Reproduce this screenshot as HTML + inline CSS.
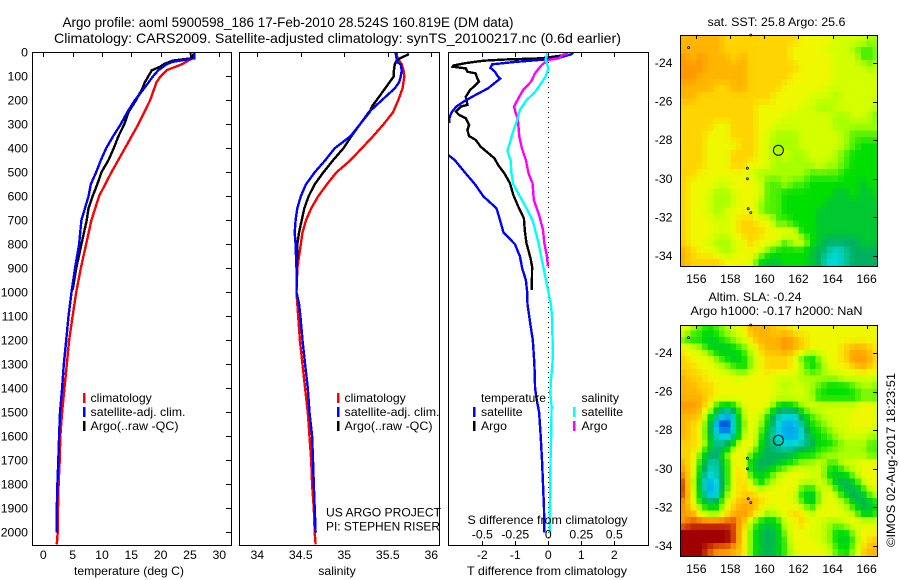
<!DOCTYPE html>
<html>
<head>
<meta charset="utf-8">
<title>Argo profile</title>
<style>
html,body{margin:0;padding:0;background:#fff;}
svg{display:block;}
text{font-family:"Liberation Sans",sans-serif;font-size:12.25px;fill:#000;}
.title{font-size:14px;}
.mid{text-anchor:middle;}
</style>
</head>
<body>
<svg id="chart" xmlns="http://www.w3.org/2000/svg" width="900" height="580" viewBox="0 0 900 580">
<defs>
<clipPath id="clip-temp"><rect x="32" y="52" width="199" height="493"/></clipPath>
<clipPath id="clip-sal"><rect x="239" y="52" width="200" height="493"/></clipPath>
<clipPath id="clip-diff"><rect x="448" y="52" width="200" height="493"/></clipPath>
<clipPath id="clip-map1"><rect x="681" y="36" width="196" height="230"/></clipPath>
<clipPath id="clip-map2"><rect x="681" y="326" width="196" height="230"/></clipPath>
</defs>
<text class="title" x="62.5" y="27" textLength="451" lengthAdjust="spacingAndGlyphs">Argo profile: aoml 5900598_186 17-Feb-2010 28.524S 160.819E (DM data)</text>
<text class="title" x="54" y="43" textLength="567" lengthAdjust="spacingAndGlyphs">Climatology: CARS2009. Satellite-adjusted climatology: synTS_20100217.nc (0.6d earlier)</text>

<g id="panel-temp"></g>
<g id="panel-sal"></g>
<g id="panel-diff"></g>
<g id="panel-map1"></g>
<g id="panel-map2"></g>

<text x="74" y="575" textLength="110" lengthAdjust="spacingAndGlyphs">temperature (deg C)</text>
<text class="mid" x="337" y="575">salinity</text>
<text x="467" y="575" textLength="160" lengthAdjust="spacingAndGlyphs">T difference from climatology</text>
<text x="467.5" y="524" textLength="160" lengthAdjust="spacingAndGlyphs">S difference from climatology</text>

<g>
<rect x="83" y="393" width="2.5" height="10" fill="#f00"/>
<rect x="83" y="407" width="2.5" height="10" fill="#00f"/>
<rect x="83" y="421" width="2.5" height="10" fill="#000"/>
<text x="90.5" y="402">climatology</text>
<text x="90.5" y="416" textLength="95" lengthAdjust="spacingAndGlyphs">satellite-adj. clim.</text>
<text x="90.5" y="430" textLength="88" lengthAdjust="spacingAndGlyphs">Argo(..raw -QC)</text>
</g>
<g>
<rect x="337" y="393" width="2.5" height="10" fill="#f00"/>
<rect x="337" y="407" width="2.5" height="10" fill="#00f"/>
<rect x="337" y="421" width="2.5" height="10" fill="#000"/>
<text x="344.5" y="402">climatology</text>
<text x="344.5" y="416" textLength="95" lengthAdjust="spacingAndGlyphs">satellite-adj. clim.</text>
<text x="344.5" y="430" textLength="88" lengthAdjust="spacingAndGlyphs">Argo(..raw -QC)</text>
</g>
<g>
<text x="326" y="516.5" textLength="115" lengthAdjust="spacingAndGlyphs">US ARGO PROJECT</text>
<text x="326" y="530.5" textLength="114" lengthAdjust="spacingAndGlyphs">PI: STEPHEN RISER</text>
</g>
<g>
<text x="481" y="402" textLength="65" lengthAdjust="spacingAndGlyphs">temperature</text>
<text x="581.5" y="402">salinity</text>
<rect x="473" y="407" width="2.5" height="10" fill="#00f"/>
<rect x="473" y="421" width="2.5" height="10" fill="#000"/>
<rect x="573" y="407" width="2.5" height="10" fill="#0ff"/>
<rect x="573" y="421" width="2.5" height="10" fill="#f0f"/>
<text x="481" y="416">satellite</text>
<text x="481" y="430">Argo</text>
<text x="581.5" y="416">satellite</text>
<text x="581.5" y="430">Argo</text>
</g>

<text x="707.5" y="26" textLength="138" lengthAdjust="spacingAndGlyphs">sat. SST: 25.8 Argo: 25.6</text>
<text x="708.5" y="301" textLength="93" lengthAdjust="spacingAndGlyphs">Altim. SLA: -0.24</text>
<text x="690.5" y="315" textLength="172" lengthAdjust="spacingAndGlyphs">Argo h1000: -0.17 h2000: NaN</text>
<text transform="translate(895,547) rotate(-90)" textLength="174" lengthAdjust="spacingAndGlyphs">©IMOS 02-Aug-2017 18:23:51</text>
</svg>
<script>
// ---------- chart data ----------
const depthTickValues = [0,100,200,300,400,500,600,700,800,900,1000,1100,1200,1300,1400,1500,1600,1700,1800,1900,2000];
const tempTickValues = [0,5,10,15,20,25,30];
const salTickValues = [34,34.5,35,35.5,36];
const tDiffTickValues = [-2,-1,0,1,2];
const sDiffTickValues = [-0.5,-0.25,0,0.25,0.5];
const sDiffTickLabels = ["-0.5","-0.25","0","0.25","0.5"];
const lonTickValues = [156,158,160,162,164,166];
const latTickValues = [-24,-26,-28,-30,-32,-34];

const tempClimDepth = [0,25,50,75,100,125,200,300,400,500,600,700,800,900,1000,1100,1200,1300,1400,1500,1600,1700,1800,1900,2000,2050];
const tempClim = [25.0,25.4,23.6,21.0,20.0,19.3,18.2,16.2,13.9,11.6,9.5,8.2,7.3,6.4,5.6,5.0,4.4,4.0,3.6,3.2,2.9,2.8,2.6,2.5,2.45,2.3];
const tempSatDepth = [0,25,40,50,75,100,150,200,250,300,350,400,450,500,550,600,700,800,900,1000,1100,1200,1300,1400,1500,1600,1700,1800,1900,2000];
const tempSat = [25.7,25.7,22.0,21.0,19.6,18.7,17.2,15.6,14.3,13.2,11.9,10.7,9.8,9.0,8.1,7.7,6.5,6.1,5.4,4.8,4.3,3.9,3.5,3.2,2.85,2.7,2.55,2.4,2.3,2.27];
const tempArgoDepth = [5,25,35,50,60,75,100,125,150,200,250,300,350,400,450,500,550,600,650,700,800,900,990];
const tempArgo = [25.7,25.2,22.0,20.5,19.9,18.5,17.9,17.3,16.9,15.8,14.5,13.8,12.8,12.0,11.1,9.9,9.2,8.4,7.7,7.4,6.5,5.6,5.0];

const salClimDepth = [0,25,50,75,100,150,200,250,300,350,400,450,500,550,600,650,700,750,800,850,900,1000,1100,1200,1300,1400,1500,1600,1700,1800,1900,2000,2050];
const salClim = [35.6,35.61,35.66,35.68,35.69,35.67,35.62,35.56,35.45,35.33,35.2,35.07,34.91,34.8,34.7,34.62,34.56,34.52,34.5,34.48,34.46,34.45,34.47,34.49,34.52,34.55,34.58,34.6,34.62,34.63,34.65,34.66,34.67];
const salSatDepth = [0,25,40,50,75,100,125,150,200,250,300,350,400,450,500,550,600,650,700,750,800,850,900,1000,1050,1100,1200,1300,1400,1500,1600,1700,1800,1900,2000];
const salSat = [35.59,35.6,35.6,35.65,35.66,35.65,35.63,35.58,35.43,35.28,35.18,35.07,34.89,34.78,34.66,34.56,34.5,34.46,34.44,34.43,34.44,34.445,34.45,34.45,34.48,34.495,34.52,34.55,34.58,34.6,34.63,34.64,34.65,34.66,34.67];
const salArgoDepth = [5,10,25,35,50,75,100,125,150,200,225,250,300,350,400,450,500,550,600,650,700,750,800,900,990];
const salArgo = [35.74,35.73,35.64,35.6,35.58,35.57,35.57,35.52,35.47,35.37,35.32,35.29,35.18,35.08,34.99,34.87,34.76,34.66,34.59,34.54,34.51,34.48,34.46,34.455,34.45];

const tDiffSatDepth = [0,8,20,30,40,50,65,80,100,110,125,150,175,200,225,250,275,290,310,400,430,450,500,550,600,650,700,750,800,850,900,950,1000,1050,1100,1200,1300,1400,1450,1500,1600,1700,1800,1900,2000];
const tDiffSat = [0.75,0.7,0.4,-0.1,-1.0,-1.7,-1.75,-1.62,-1.53,-1.46,-1.6,-1.82,-2.17,-2.5,-2.78,-2.93,-3.0,-3.0,-3.4,-3.4,-3.01,-2.83,-2.53,-2.22,-1.97,-1.57,-1.46,-1.36,-1.01,-0.86,-0.79,-0.68,-0.64,-0.63,-0.58,-0.47,-0.42,-0.40,-0.35,-0.28,-0.23,-0.19,-0.16,-0.13,-0.12];
const tDiffArgoDepth = [10,25,30,35,45,55,60,67,81,88,108,122,136,157,185,219,226,247,261,275,303,324,349,365,393,414,442,469,504,546,594,643,692,747,796,858,893,990];
const tDiffArgo = [0.6,-0.2,-1.3,-1.97,-2.5,-2.88,-2.9,-2.5,-2.45,-2.2,-2.15,-2.1,-2.2,-2.37,-2.5,-2.45,-2.65,-2.8,-2.7,-2.5,-2.4,-2.45,-2.4,-2.2,-2.05,-1.87,-1.63,-1.52,-1.33,-1.16,-1.06,-0.91,-0.74,-0.71,-0.66,-0.54,-0.49,-0.5];
const sDiffSatDepth = [4,30,67,101,130,165,199,240,290,328,375,410,450,500,550,600,650,700,780,1050,1101,1254,1310,1365,1421,1476,1588,1699,1838,1921,2004];
const sDiffSat = [-0.01,-0.02,0,-0.02,-0.055,-0.1,-0.165,-0.215,-0.24,-0.265,-0.29,-0.31,-0.285,-0.28,-0.265,-0.215,-0.165,-0.12,-0.08,0.02,0.028,0.035,0.03,0.02,0.015,0.025,0.022,0.017,0.015,0.01,0.01];
const sDiffArgoDepth = [4,10,25,32,53,87,122,157,185,226,247,282,351,400,449,504,545,615,678,740,794,851,893];
const sDiffArgo = [0.15,0.11,0.08,0,-0.05,-0.1,-0.13,-0.19,-0.22,-0.26,-0.25,-0.23,-0.22,-0.2,-0.17,-0.15,-0.12,-0.11,-0.07,-0.04,-0.03,-0.01,-0.003];

const sstLevels = [
[3,3,3,3,3,4,4,4,4,4,4,4,4,4,5,5,5,5,6,6,6,6,7,7],
[3,3,3,3,3,4,4,4,4,4,4,4,4,5,5,5,5,6,6,6,7,8,8,7],
[2,3,2,3,3,3,4,3,4,4,4,4,4,5,5,5,5,5,6,6,6,8,8,7],
[2,2,2,3,3,3,3,3,4,4,4,4,4,4,5,5,5,5,6,6,6,6,7,6],
[2,2,3,3,3,3,3,3,4,4,4,4,4,5,5,5,5,5,6,6,6,6,6,6],
[3,3,3,3,4,4,3,3,4,4,4,4,5,5,5,5,5,6,6,6,6,6,6,6],
[3,3,4,4,4,4,4,4,4,4,4,5,5,5,5,6,6,6,7,6,6,6,6,6],
[4,4,4,4,4,4,4,4,4,5,5,5,5,5,6,6,7,7,6,6,6,6,6,7],
[4,4,4,4,4,4,4,4,4,5,5,5,6,6,6,6,6,6,7,7,6,6,7,8],
[4,4,4,4,5,5,4,4,4,5,5,6,6,6,6,6,6,6,7,7,7,7,7,7],
[4,4,4,5,5,5,4,4,4,5,6,7,7,7,6,6,6,6,6,7,8,8,8,8],
[4,4,4,5,5,5,5,4,4,5,6,7,7,7,6,6,6,6,6,7,8,9,9,9],
[4,4,4,5,5,5,4,4,4,5,6,7,6,7,7,6,6,6,7,8,9,9,9,9],
[4,4,4,5,5,5,4,4,5,5,6,7,7,7,7,7,6,7,7,8,9,9,9,9],
[4,4,5,5,5,5,5,5,6,7,7,7,7,7,7,8,8,8,8,9,9,9,9,9],
[4,5,5,5,6,6,5,5,5,6,8,8,7,8,8,9,9,9,9,9,9,10,9,9],
[4,5,5,6,7,7,6,5,5,6,8,8,9,9,9,9,9,9,10,10,9,10,10,9],
[4,5,5,6,7,7,6,5,5,7,8,8,9,9,9,9,9,10,10,10,10,10,10,10],
[4,5,5,6,7,6,5,5,5,7,8,8,9,9,9,9,10,10,10,10,10,10,10,10],
[4,5,5,5,6,6,5,4,4,5,5,8,8,9,9,9,10,10,10,10,10,10,10,10],
[4,5,5,5,6,6,5,4,4,4,5,5,5,6,9,9,10,10,10,10,10,10,10,10],
[4,5,5,6,7,7,6,5,4,5,5,6,8,6,6,9,10,11,11,11,11,10,10,10],
[3,4,5,5,6,7,6,5,5,6,8,9,9,9,9,10,11,12,13,12,11,11,11,11],
[3,4,4,4,4,5,5,5,6,9,10,10,9,9,9,10,11,13,13,12,11,11,11,11]
];
const slaLevels = [
[5,7,8,9,8,7,6,5,3,3,3,4,4,5,5,5,5,5,5,5,5,5,5,5],
[8,9,9,10,9,8,7,6,4,3,3,3,2,3,4,5,5,5,5,5,5,5,5,5],
[5,6,7,9,10,10,9,8,6,4,3,3,2,3,4,5,5,5,5,4,3,3,4,5],
[4,5,5,6,8,9,10,9,7,5,4,4,4,5,8,9,7,5,5,4,2,2,3,5],
[4,4,5,5,6,7,8,9,7,5,4,4,4,5,7,9,8,6,5,5,4,3,4,5],
[3,4,4,5,5,5,6,6,5,5,5,6,6,6,7,7,7,7,7,6,6,6,6,6],
[3,3,4,4,5,5,5,5,5,5,5,6,7,6,6,7,8,9,9,9,8,7,7,8],
[3,3,3,4,5,5,5,5,5,5,5,6,6,6,6,7,9,9,9,9,9,8,8,8],
[2,2,3,5,9,10,9,6,5,5,6,9,10,9,7,6,6,6,6,6,6,5,5,6],
[3,3,4,8,12,14,12,7,5,6,9,12,13,13,10,8,7,6,6,6,5,5,5,6],
[3,4,5,10,15,16,12,8,5,7,10,13,14,14,12,9,8,7,6,6,5,5,5,6],
[3,4,5,10,13,14,12,7,5,8,11,13,14,14,13,10,9,8,7,6,6,6,7,7],
[4,4,5,9,12,11,8,5,5,9,11,12,13,13,12,11,9,9,8,7,7,7,8,8],
[4,4,8,11,11,8,5,5,8,10,11,11,11,10,9,9,8,7,7,7,7,7,8,8],
[3,5,9,12,12,9,5,5,10,11,11,10,9,8,7,7,6,8,8,6,6,5,5,5],
[2,5,10,13,12,9,5,4,9,10,9,7,6,5,5,6,6,9,10,9,7,5,5,5],
[1,6,11,14,13,9,5,4,6,9,7,6,5,5,7,7,6,7,10,11,10,7,5,5],
[1,5,10,14,13,8,5,4,4,5,5,5,5,6,9,10,7,5,7,10,11,10,7,6],
[2,5,9,11,10,6,4,3,3,4,5,5,5,6,8,10,7,5,6,7,10,11,10,8],
[2,3,6,8,8,5,3,2,3,5,7,6,5,4,5,7,5,5,5,6,7,10,10,8],
[2,1,1,1,1,1,1,3,7,9,10,9,6,5,4,5,6,7,7,6,5,6,6,6],
[0,0,0,0,0,0,1,4,8,10,11,10,7,5,5,6,6,7,9,9,7,5,5,5],
[0,0,0,0,0,0,1,4,8,10,11,10,8,5,5,5,6,7,9,10,8,5,4,3],
[0,0,0,1,2,2,3,4,8,10,11,10,8,6,5,5,5,6,8,9,7,4,3,3]
];
const markerLons = [155.55,159.0,159.0,159.05,159.2,159.2];
const markerLats = [-23.2,-29.45,-30.0,-31.55,-31.75,-22.55];
const argoLon = 160.819;
const argoLat = -28.524;

// ---------- axis functions and style ----------
const ramp = [[160,0,0],[224,80,0],[255,152,0],[255,180,0],[255,212,0],[240,248,0],[212,255,0],[168,255,0],[80,240,0],[0,224,0],[0,200,48],[0,176,96],[0,200,160],[0,216,216],[0,168,240],[0,96,224],[0,64,192]];
const NS = "http://www.w3.org/2000/svg";
const yDepth = d => 52.3 + 0.24 * d;
const xTemp = v => 43.3 + 5.867 * v;
const xSal = v => 257.3 + 87 * (v - 34);
const xTDiff = v => 548.3 + 33 * v;
const xSDiff = v => 548.3 + 132 * v;
const xLon = v => 696.3 + 17.03 * (v - 156);
const yLat1 = v => 63 - 19.3 * (v + 24);
const yLat2 = v => 353 - 19.3 * (v + 24);

function make(tag, parent, attrs) {
  const el = document.createElementNS(NS, tag);
  for (const k in attrs) el.setAttribute(k, attrs[k]);
  parent.appendChild(el);
  return el;
}
function tick(parent, x1, y1, x2, y2) {
  const el = make("line", parent, {x1, y1, x2, y2, stroke: "#000", "stroke-width": 1, "shape-rendering": "crispEdges"});
  
  
}
function label(parent, x, y, str, anchor) {
  const el = make("text", parent, {x, y, "text-anchor": anchor});
  el.textContent = str;
  
  
}
function frame(parent, x, y, w, h) {
  const el = make("rect", parent, {x: x + 0.5, y: y + 0.5, width: w, height: h, fill: "none", stroke: "#000", "stroke-width": 1, "shape-rendering": "crispEdges"});
  
  
}
function series(parent, name, clip, xs, ds, xFn, color) {
  const pts = xs.map((v, i) => xFn(v).toFixed(1) + "," + yDepth(ds[i]).toFixed(1)).join(" ");
  const el = make("polyline", parent, {points: pts, fill: "none", stroke: color, "stroke-width": 2.4, "shape-rendering": "crispEdges", "clip-path": "url(#" + clip + ")"});
  
  
}

// ---------- temperature panel ----------
const pT = document.getElementById("panel-temp");
series(pT, "temperature-climatology-line", "clip-temp", tempClim, tempClimDepth, xTemp, "#f00");
series(pT, "temperature-argo-line", "clip-temp", tempArgo, tempArgoDepth, xTemp, "#000");
series(pT, "temperature-satellite-line", "clip-temp", tempSat, tempSatDepth, xTemp, "#00f");
frame(pT, 32, 52, 199, 493);
depthTickValues.forEach(d => {
  tick(pT, 226, Math.round(yDepth(d)) + 0.5, 231, Math.round(yDepth(d)) + 0.5);
  label(pT, 28, yDepth(d) + 4, String(d), "end");
});
tempTickValues.forEach(v => {
  tick(pT, Math.round(xTemp(v)) + 0.5, 52, Math.round(xTemp(v)) + 0.5, 57);
  label(pT, xTemp(v), 559, String(v), "middle");
});

// ---------- salinity panel ----------
const pS = document.getElementById("panel-sal");
series(pS, "salinity-climatology-line", "clip-sal", salClim, salClimDepth, xSal, "#f00");
series(pS, "salinity-argo-line", "clip-sal", salArgo, salArgoDepth, xSal, "#000");
series(pS, "salinity-satellite-line", "clip-sal", salSat, salSatDepth, xSal, "#00f");
frame(pS, 239, 52, 200, 493);
salTickValues.forEach(v => {
  tick(pS, Math.round(xSal(v)) + 0.5, 52, Math.round(xSal(v)) + 0.5, 57);
  label(pS, xSal(v), 559, String(v), "middle");
});

// ---------- difference panel ----------
const pD = document.getElementById("panel-diff");
const zeroLine = make("line", pD, {x1: 548.5, y1: 52, x2: 548.5, y2: 545, stroke: "#000", "stroke-width": 1, "stroke-dasharray": "1 4"});


series(pD, "t-difference-argo-line", "clip-diff", tDiffArgo, tDiffArgoDepth, xTDiff, "#000");
series(pD, "t-difference-satellite-line", "clip-diff", tDiffSat, tDiffSatDepth, xTDiff, "#00f");
series(pD, "s-difference-argo-line", "clip-diff", sDiffArgo, sDiffArgoDepth, xSDiff, "#f0f");
series(pD, "s-difference-satellite-line", "clip-diff", sDiffSat, sDiffSatDepth, xSDiff, "#0ff");
frame(pD, 448, 52, 200, 493);
tDiffTickValues.forEach(v => {
  tick(pD, Math.round(xTDiff(v)) + 0.5, 52, Math.round(xTDiff(v)) + 0.5, 57);
  tick(pD, Math.round(xTDiff(v)) + 0.5, 541, Math.round(xTDiff(v)) + 0.5, 545);
  label(pD, xTDiff(v), 559, String(v), "middle");
});
sDiffTickValues.forEach((v, i) => {
  label(pD, xSDiff(v), 538.5, sDiffTickLabels[i], "middle");
});

// ---------- maps ----------
function levelAt(levels, lon, lat) {
  const rows = levels.length, cols = levels[0].length;
  const fc = Math.max(0, Math.min(cols - 1.001, (lon - 155.25) / 0.5));
  const fr = Math.max(0, Math.min(rows - 1.001, (-22.75 - lat) / 0.5));
  const c = Math.floor(fc), r = Math.floor(fr), u = fc - c, v = fr - r;
  return (1 - v) * ((1 - u) * levels[r][c] + u * levels[r][c + 1]) + v * ((1 - u) * levels[r + 1][c] + u * levels[r + 1][c + 1]);
}
function levelColor(lev) {
  const i = Math.min(ramp.length - 2, Math.floor(lev)), t = lev - i;
  const rgb = [0, 1, 2].map(k => Math.round(ramp[i][k] + t * (ramp[i + 1][k] - ramp[i][k])));
  return "rgb(" + rgb.join(",") + ")";
}
function drawMap(parent, levels, yLat, clip, fy, prefix) {
  const g = make("g", parent, {"clip-path": "url(#" + clip + ")", "shape-rendering": "crispEdges"});
  const step = 1 / 3;
  for (let r = 0; r < 36; r++) {
    for (let c = 0; c < 36; c++) {
      const lon = 155 + c * step, lat = -22.5 - r * step;
      const x0 = xLon(lon), x1 = xLon(lon + step), y0 = yLat(lat), y1 = yLat(lat - step);
      const cell = make("rect", g, {x: x0.toFixed(1), y: y0.toFixed(1), width: (x1 - x0 + 0.5).toFixed(1), height: (y1 - y0 + 0.5).toFixed(1), fill: levelColor(levelAt(levels, lon + step / 2, lat - step / 2))});
      
      
    }
  }
  frame(parent, 680, fy, 197, 231);
  lonTickValues.forEach(v => {
    tick(parent, Math.round(xLon(v)) + 0.5, fy, Math.round(xLon(v)) + 0.5, fy + 4);
    label(parent, xLon(v), fy + 248, String(v), "middle");
  });
  latTickValues.forEach(v => {
    tick(parent, 873, Math.round(yLat(v)) + 0.5, 877, Math.round(yLat(v)) + 0.5);
    label(parent, 672.5, yLat(v) + 4, String(v), "end");
  });
  markerLons.forEach((lon, i) => {
    const m = make("circle", parent, {cx: xLon(lon).toFixed(1), cy: yLat(markerLats[i]).toFixed(1), r: 1, fill: "none", stroke: "#000", "stroke-width": 0.8});
    
    
  });
  const a = make("circle", parent, {cx: xLon(argoLon).toFixed(1), cy: yLat(argoLat).toFixed(1), r: 5, fill: "none", stroke: "#000", "stroke-width": 1});
  
  
}
drawMap(document.getElementById("panel-map1"), sstLevels, yLat1, "clip-map1", 35, "sst");
drawMap(document.getElementById("panel-map2"), slaLevels, yLat2, "clip-map2", 325, "sla");
</script>
</body>
</html>
